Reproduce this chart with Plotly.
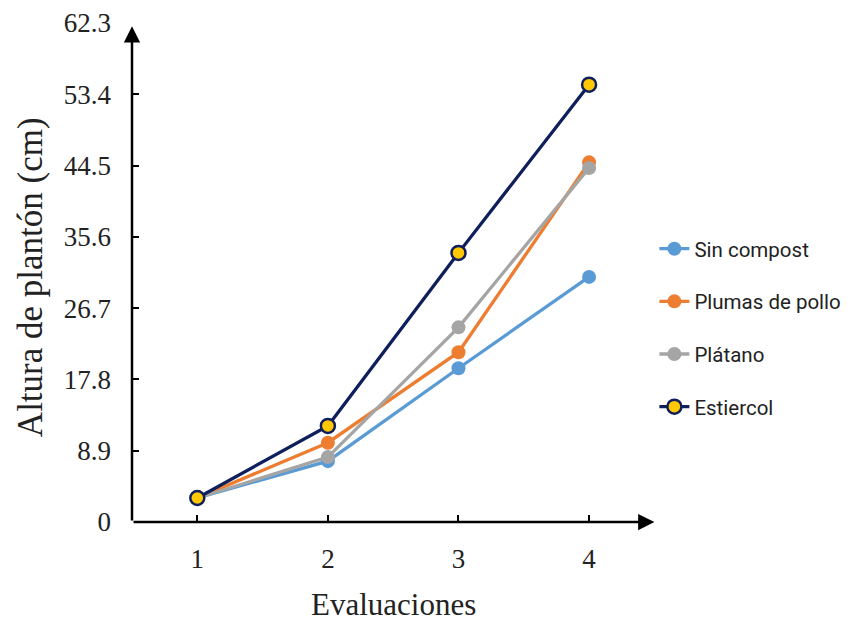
import plotly.graph_objects as go

evaluaciones = [1, 2, 3, 4]
sin_compost = [3.0, 7.6, 19.2, 30.6]
plumas_pollo = [3.0, 9.9, 21.2, 44.9]
platano = [3.0, 8.1, 24.3, 44.2]
estiercol = [3.0, 12.0, 33.6, 54.6]

y_ticks = [0, 8.9, 17.8, 26.7, 35.6, 44.5, 53.4, 62.3]
y_ticktext = ["0", "8.9", "17.8", "26.7", "35.6", "44.5", "53.4", "62.3"]
x_ticks = [1, 2, 3, 4, 4.5]
x_ticktext = ["1", "2", "3", "4", ""]

series = [
    ("Sin compost", sin_compost, "#5B9BD5", "#5B9BD5", "#5B9BD5"),
    ("Plumas de pollo", plumas_pollo, "#ED7D31", "#ED7D31", "#ED7D31"),
    ("Plátano", platano, "#A5A5A5", "#A5A5A5", "#A5A5A5"),
    ("Estiercol", estiercol, "#0E1F5B", "#FFC800", "#0E1F5B"),
]

fig = go.Figure()
for i, (name, vals, lc, mc, mlc) in enumerate(series):
    fig.add_trace(go.Scatter(
        x=evaluaciones, y=vals, name=name, mode="lines+markers",
        legendgroup=f"g{i}",
        line=dict(color=lc, width=3.3),
        marker=dict(size=14, color=mc, line=dict(color=mlc, width=2.5 if i == 3 else 0)),
        cliponaxis=False,
    ))

serif = "Liberation Serif, Times New Roman, serif"

fig.update_layout(
    width=855, height=626,
    margin=dict(l=124, r=205, t=15, b=112),
    paper_bgcolor="white", plot_bgcolor="white",
    showlegend=True,
    legend=dict(
        xref="container", yref="container",
        x=0.756, y=0.489, xanchor="left", yanchor="middle",
        font=dict(family="Liberation Sans Narrow, Roboto, Arial, sans-serif", size=20.5, color="#222"),
        tracegroupgap=23, traceorder="grouped",
        bgcolor="rgba(0,0,0,0)",
    ),
    xaxis=dict(
        range=[0.5, 4.5], tickvals=x_ticks, ticktext=x_ticktext,
        ticks="inside", ticklen=7, tickwidth=1.5, tickcolor="black",
        showline=False, showgrid=False, zeroline=False, automargin=False,
        tickfont=dict(family=serif, size=27, color="#222"),
        ticklabelstandoff=18,
    ),
    yaxis=dict(
        range=[0, 62.3], tickvals=y_ticks, ticktext=y_ticktext,
        ticks="inside", ticklen=7, tickwidth=1.5, tickcolor="black",
        showline=False, showgrid=False, zeroline=False, automargin=False,
        tickfont=dict(family=serif, size=27, color="#222"),
        ticklabelstandoff=20,
    ),
)

# axis titles
fig.add_annotation(text="Evaluaciones", xref="paper", yref="paper", x=0.5, y=-0.166,
                   xanchor="center", yanchor="middle", showarrow=False,
                   font=dict(family=serif, size=31, color="#222"))
fig.add_annotation(text="Altura de plantón (cm)", xref="paper", yref="paper", x=-0.194, y=0.49,
                   xanchor="center", yanchor="middle", showarrow=False, textangle=-90,
                   font=dict(family=serif, size=35, color="#222"))

# axis lines with arrowheads
fig.add_annotation(x=4.5, y=0, ax=0.5, ay=0, xref="x", yref="y", axref="x", ayref="y",
                   text="", showarrow=True, arrowhead=2, arrowsize=1.3, arrowwidth=2.5,
                   arrowcolor="black", standoff=0)
fig.add_annotation(x=0.5, y=61.9, ax=0.5, ay=0, xref="x", yref="y", axref="x", ayref="y",
                   text="", showarrow=True, arrowhead=2, arrowsize=1.3, arrowwidth=2.5,
                   arrowcolor="black", standoff=0)

fig.write_html("out.html")
